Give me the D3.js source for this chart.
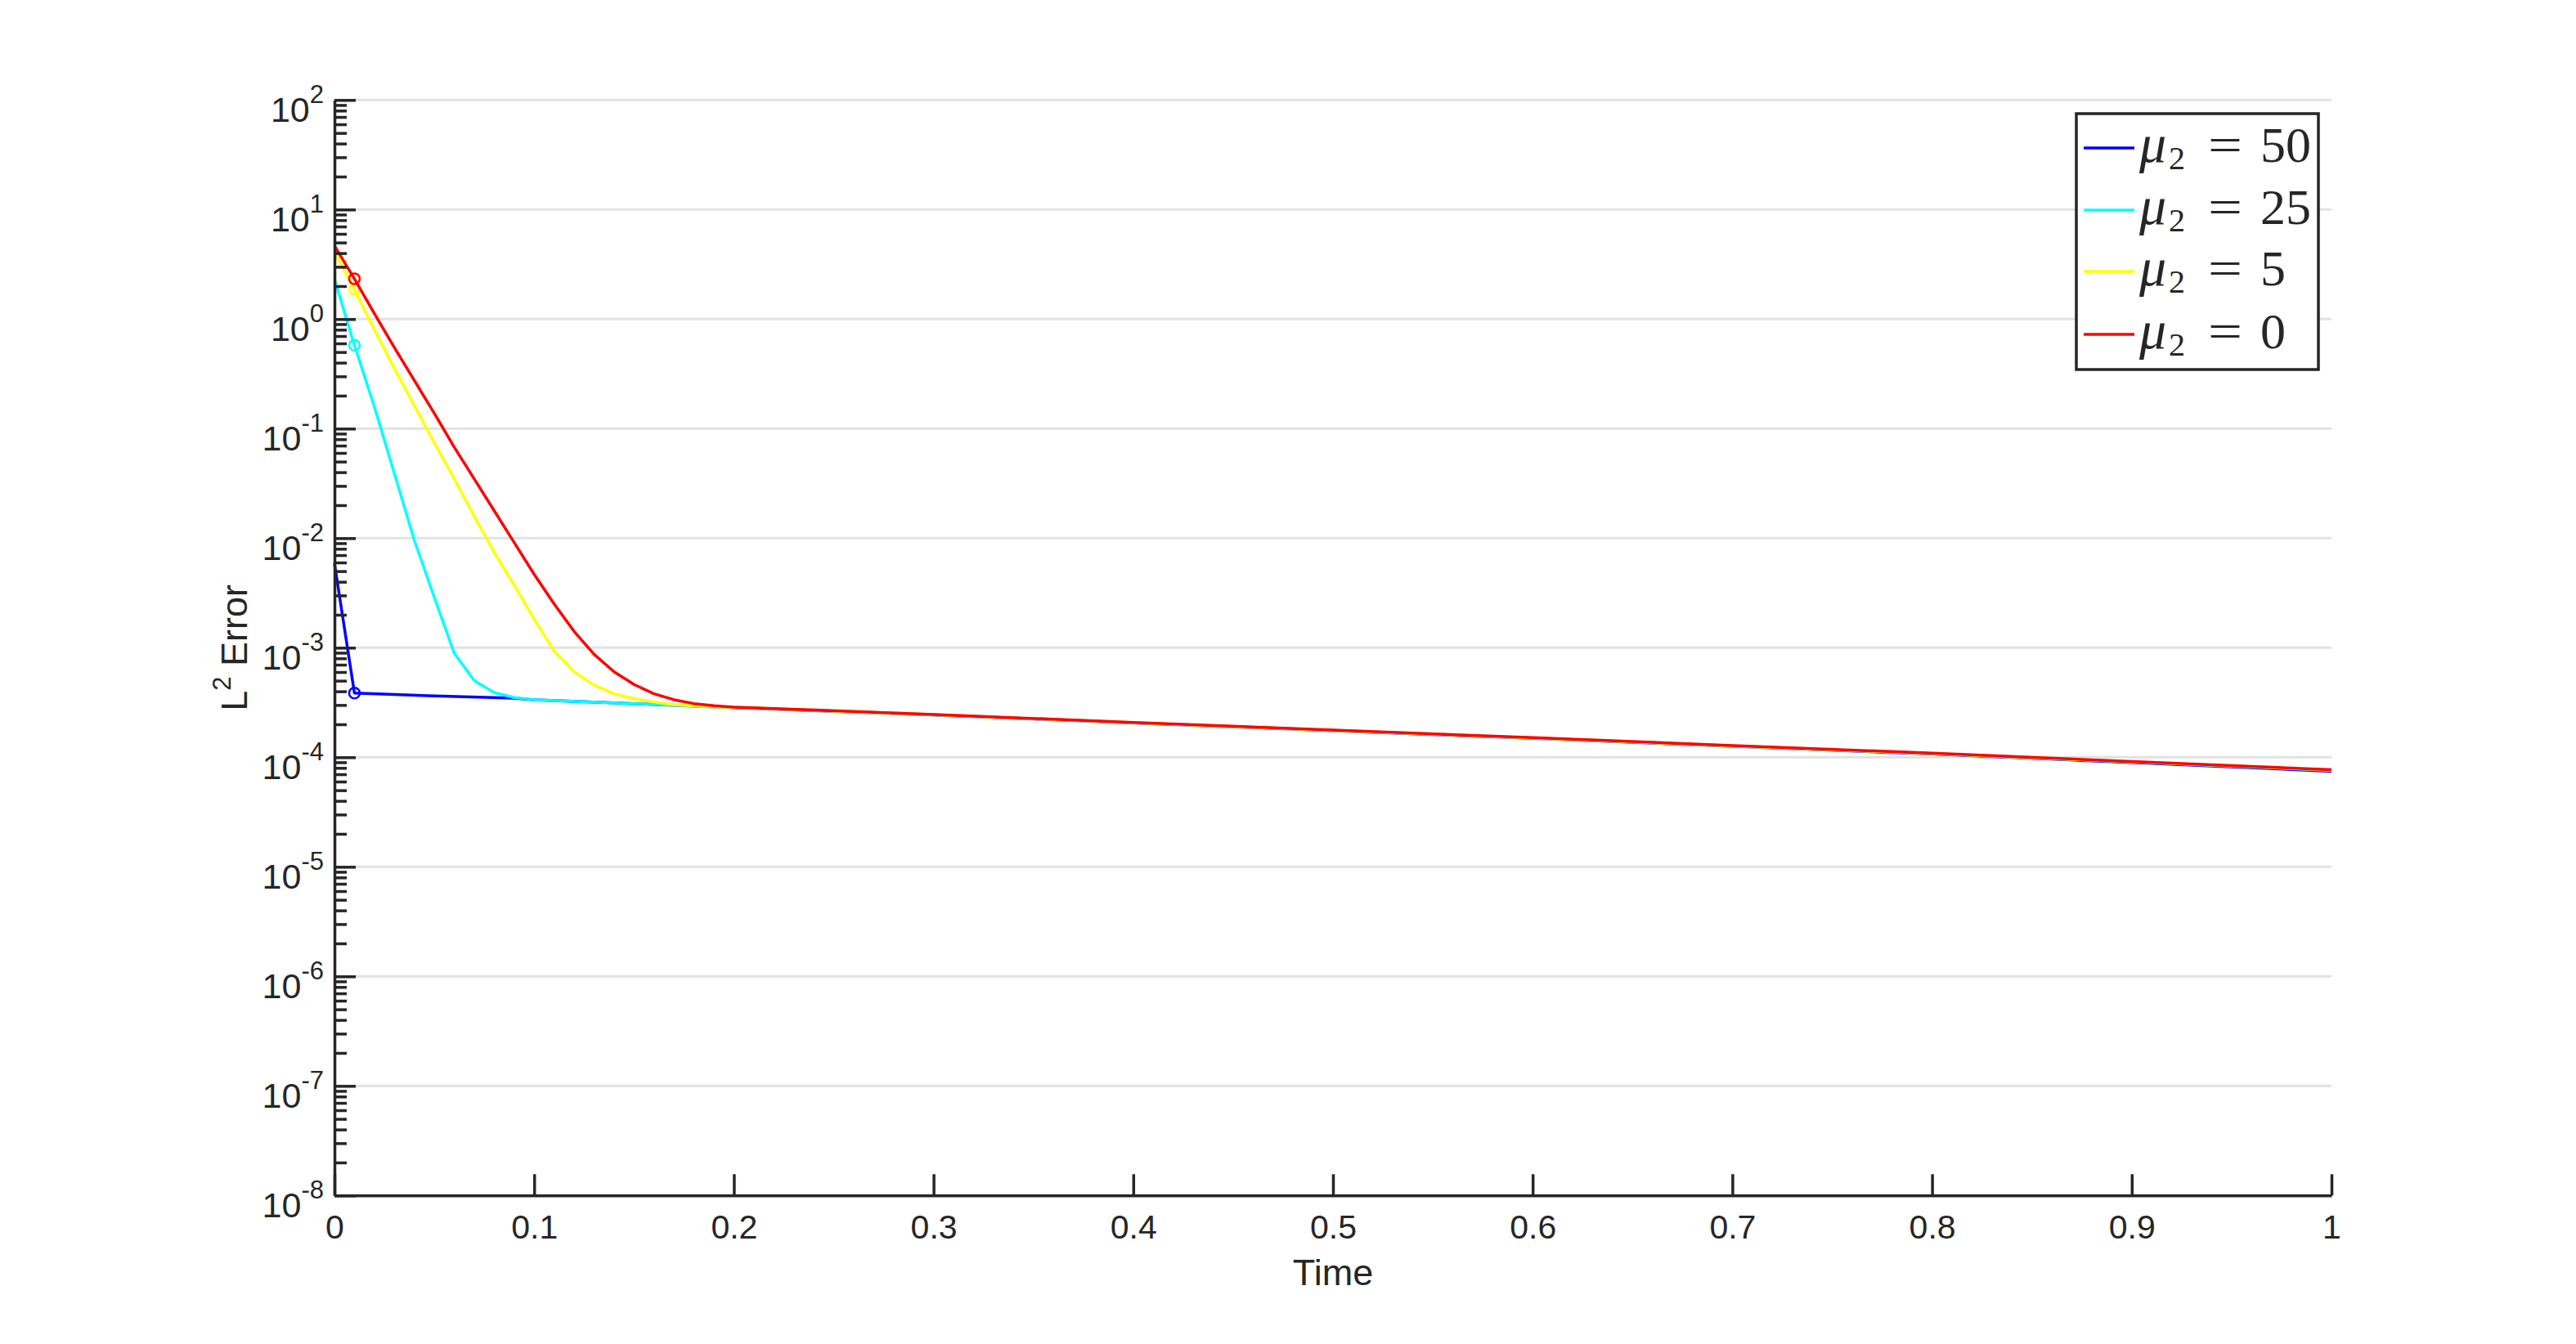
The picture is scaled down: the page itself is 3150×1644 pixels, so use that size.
<!DOCTYPE html>
<html>
<head>
<meta charset="utf-8">
<script src="https://cdn.jsdelivr.net/npm/d3@7"></script>
<style>
  html, body { margin: 0; padding: 0; background: #fff; }
  svg { display: block; }
  text { font-family: "Liberation Sans", Arial, Helvetica, sans-serif; fill: #262626; }
</style>
</head>
<body>
<svg id="chart" width="3150" height="1644"></svg>
<script>
// ---------------- data ----------------
const seriesNames = ["\u03bc2 = 50", "\u03bc2 = 25", "\u03bc2 = 5", "\u03bc2 = 0"];
const seriesValuesLabel = ["50", "25", "5", "0"];
const seriesColors = ["#0000ff", "#00ffff", "#ffff00", "#ff0000"];

const blueT = [0, 0.01, 0.05, 0.09, 0.1, 0.2, 0.3, 0.4, 0.5, 0.6, 0.7, 0.8, 0.9, 1.0];
const blueV = [5.87e-3, 3.86e-4, 3.63e-4, 3.47e-4, 3.35e-4, 2.84e-4, 2.44e-4, 2.06e-4, 1.75e-4, 1.49e-4, 1.26e-4, 1.07e-4, 8.95e-5, 7.45e-5];

const cyanT = [0, 0.01, 0.02, 0.03, 0.04, 0.05, 0.06, 0.07, 0.08, 0.09, 0.1, 0.2, 0.3, 0.4, 0.5, 0.6, 0.7, 0.8, 0.9, 1.0];
const cyanV = [2.31, 0.577, 0.158, 0.0389, 0.00955, 0.00288, 8.9e-4, 5.01e-4, 3.89e-4, 3.51e-4, 3.35e-4, 2.85e-4, 2.45e-4, 2.07e-4, 1.76e-4, 1.50e-4, 1.27e-4, 1.08e-4, 9.05e-5, 7.6e-5];

const yellowT = [0, 0.01, 0.02, 0.03, 0.04, 0.05, 0.06, 0.07, 0.08, 0.09, 0.1, 0.11, 0.12, 0.13, 0.14, 0.15, 0.16, 0.17, 0.18, 0.19, 0.2, 0.3, 0.4, 0.5, 0.6, 0.7, 0.8, 0.9, 1.0];
const yellowV = [4.09, 1.87, 0.794, 0.355, 0.162, 0.0741, 0.0347, 0.0158, 0.00741, 0.00372, 0.00182, 9.33e-4, 6.03e-4, 4.57e-4, 3.80e-4, 3.43e-4, 3.20e-4, 3.02e-4, 2.95e-4, 2.88e-4, 2.85e-4, 2.45e-4, 2.07e-4, 1.76e-4, 1.50e-4, 1.27e-4, 1.08e-4, 9.1e-5, 7.65e-5];

const redT = [0, 0.01, 0.02, 0.03, 0.04, 0.05, 0.06, 0.07, 0.08, 0.09, 0.1, 0.11, 0.12, 0.13, 0.14, 0.15, 0.16, 0.17, 0.18, 0.19, 0.2, 0.3, 0.4, 0.5, 0.6, 0.7, 0.8, 0.9, 1.0];
const redV = [4.67, 2.33, 1.12, 0.55, 0.275, 0.138, 0.0676, 0.0347, 0.0178, 0.00912, 0.00468, 0.00251, 0.00141, 8.7e-4, 6.03e-4, 4.62e-4, 3.80e-4, 3.35e-4, 3.09e-4, 2.95e-4, 2.87e-4, 2.46e-4, 2.08e-4, 1.77e-4, 1.51e-4, 1.28e-4, 1.09e-4, 9.15e-5, 7.7e-5];

const markerIndex = 1; // circle marker on the t = 0.01 sample

const xTickValues = [0, 0.1, 0.2, 0.3, 0.4, 0.5, 0.6, 0.7, 0.8, 0.9, 1];
const xTickLabels = ["0", "0.1", "0.2", "0.3", "0.4", "0.5", "0.6", "0.7", "0.8", "0.9", "1"];
const yExponents = [-8, -7, -6, -5, -4, -3, -2, -1, 0, 1, 2];
const xLabel = "Time";
const yLabelMain = "L";
const yLabelSup = "2";
const yLabelRest = " Error";

// ---------------- layout ----------------
const svg = d3.select("#chart");
const L = 409, R = 2851, T = 122.3, B = 1462.3;
const axisColor = "#262626";

const x = d3.scaleLinear().domain([0, 1]).range([L, R]);
const y = d3.scaleLog().domain([1e-8, 1e2]).range([B, T]);

const majorVals = yExponents.map(e => Math.pow(10, e));
const minorVals = [];
yExponents.slice(0, -1).forEach(e => { for (let m = 2; m <= 9; m++) minorVals.push(m * Math.pow(10, e)); });

// grid lines
svg.append("g").selectAll("line").data(majorVals).join("line")
  .attr("x1", L).attr("x2", R)
  .attr("y1", d => y(d)).attr("y2", d => y(d))
  .attr("stroke", "#e2e2e2").attr("stroke-width", 3);

// series
const series = [
  { t: blueT, v: blueV, c: seriesColors[0] },
  { t: cyanT, v: cyanV, c: seriesColors[1] },
  { t: yellowT, v: yellowV, c: seriesColors[2] },
  { t: redT, v: redV, c: seriesColors[3] }
];
const line = d3.line().x(d => x(d[0])).y(d => y(d[1]));
const gData = svg.append("g");
series.forEach(s => {
  const pts = s.t.map((t, i) => [t, s.v[i]]);
  gData.append("path").attr("d", line(pts))
    .attr("fill", "none").attr("stroke", s.c).attr("stroke-width", 3.5)
    .attr("stroke-linejoin", "round");
  gData.append("circle")
    .attr("cx", x(s.t[markerIndex])).attr("cy", y(s.v[markerIndex]))
    .attr("r", 6.5).attr("fill", "none").attr("stroke", s.c).attr("stroke-width", 2.5);
});

// y axis: minor ticks
const yMinor = svg.append("g").attr("transform", `translate(${L},0)`)
  .call(d3.axisLeft(y).tickValues(minorVals).tickSize(-15).tickSizeOuter(0).tickFormat(""));
yMinor.select(".domain").remove();
yMinor.selectAll("line").attr("stroke", axisColor).attr("stroke-width", 3.5);

// y axis: major ticks + labels
const yAx = svg.append("g").attr("transform", `translate(${L},0)`)
  .call(d3.axisLeft(y).tickValues(majorVals).tickSize(-26).tickSizeOuter(0).tickPadding(13).tickFormat(""));
yAx.select(".domain").attr("stroke", axisColor).attr("stroke-width", 3.5);
yAx.selectAll("line").attr("stroke", axisColor).attr("stroke-width", 3.5);
yAx.selectAll(".tick text").each(function(d, i) {
  const t = d3.select(this);
  t.text(null).attr("fill", axisColor).attr("font-size", 43).attr("dy", "0.6em").attr("text-anchor", "end");
  t.append("tspan").text("10");
  t.append("tspan").attr("font-size", 31).attr("dy", -23).text(String(Math.round(Math.log10(d))));
});

// x axis
const xAx = svg.append("g").attr("transform", `translate(0,${B})`)
  .call(d3.axisBottom(x).tickValues(xTickValues).tickSize(-26).tickSizeOuter(0).tickPadding(24)
    .tickFormat((d, i) => xTickLabels[i]));
xAx.select(".domain").attr("stroke", axisColor).attr("stroke-width", 3.5);
xAx.selectAll("line").attr("stroke", axisColor).attr("stroke-width", 3.5);
xAx.selectAll("text").attr("font-size", 41).attr("fill", axisColor);

// axis labels
svg.append("text").attr("x", (L + R) / 2).attr("y", 1572).attr("text-anchor", "middle")
  .attr("font-size", 45).attr("fill", axisColor).text(xLabel);

const yl = svg.append("text").attr("transform", `translate(302,${(T + B) / 2}) rotate(-90)`)
  .attr("text-anchor", "middle").attr("font-size", 45).attr("fill", axisColor);
yl.append("tspan").text(yLabelMain);
yl.append("tspan").attr("font-size", 31).attr("dy", -20).text(yLabelSup);
yl.append("tspan").attr("dy", 20).text(yLabelRest);

// legend
const lg = svg.append("g");
lg.append("rect").attr("x", 2539).attr("y", 139).attr("width", 296).attr("height", 313)
  .attr("fill", "#fff").attr("stroke", axisColor).attr("stroke-width", 3.5);
const rowY = [181, 257, 332, 409];
const serif = '"Liberation Serif", "DejaVu Serif", serif';
seriesColors.forEach((c, i) => {
  const yy = rowY[i];
  lg.append("line").attr("x1", 2548).attr("x2", 2610).attr("y1", yy).attr("y2", yy)
    .attr("stroke", c).attr("stroke-width", 3.5);
  lg.append("text").attr("x", 2616).attr("y", yy + 17).attr("font-size", 66)
    .attr("font-style", "italic").style("font-family", serif).attr("fill", "#000").text("\u03bc");
  lg.append("text").attr("x", 2652).attr("y", yy + 26).attr("font-size", 40)
    .style("font-family", serif).attr("fill", "#000").text("2");
  lg.append("text").attr("x", 2700).attr("y", yy + 17).attr("font-size", 62)
    .attr("textLength", 42).attr("lengthAdjust", "spacingAndGlyphs")
    .style("font-family", serif).attr("fill", "#000").text("=");
  lg.append("text").attr("x", 2764).attr("y", yy + 17).attr("font-size", 62)
    .style("font-family", serif).attr("fill", "#000").text(seriesValuesLabel[i]);
});
</script>
</body>
</html>
